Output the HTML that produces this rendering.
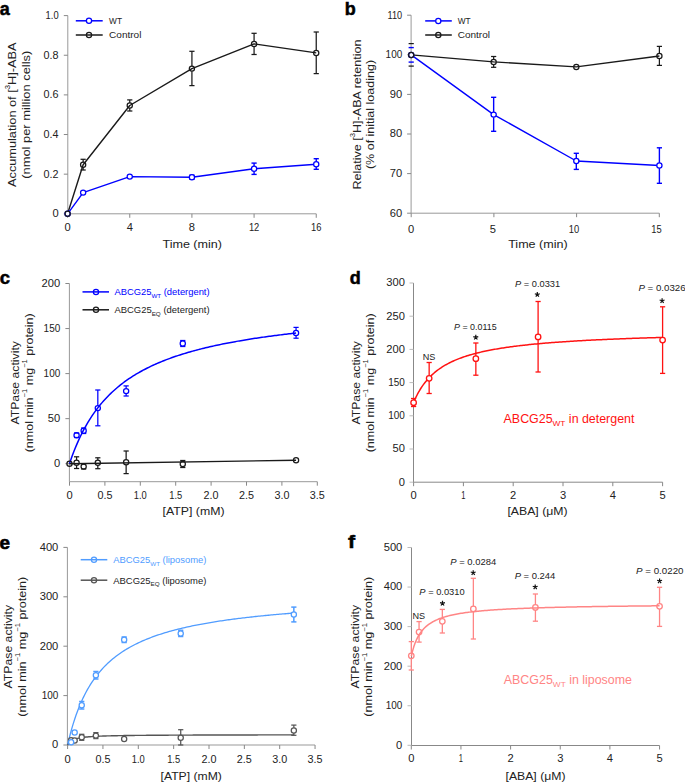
<!DOCTYPE html>
<html><head><meta charset="utf-8"><style>
html,body{margin:0;padding:0;background:#fff;width:685px;height:783px;overflow:hidden}
svg{display:block}
text{font-family:"Liberation Sans",sans-serif}
</style></head><body>
<svg width="685" height="783" viewBox="0 0 685 783">
<rect width="685" height="783" fill="#fff"/>
<g font-family="Liberation Sans, sans-serif">
<text x="-0.3" y="14.6" font-size="18" fill="#000" stroke="#000" stroke-width="0.5" textLength="10" lengthAdjust="spacingAndGlyphs" font-weight="bold" >a</text>
<text x="344.8" y="14.6" font-size="18" fill="#000" stroke="#000" stroke-width="0.5" textLength="11" lengthAdjust="spacingAndGlyphs" font-weight="bold" >b</text>
<text x="-0.2" y="283.6" font-size="18" fill="#000" stroke="#000" stroke-width="0.5" textLength="10.3" lengthAdjust="spacingAndGlyphs" font-weight="bold" >c</text>
<text x="349.8" y="283.6" font-size="18" fill="#000" stroke="#000" stroke-width="0.5" textLength="11" lengthAdjust="spacingAndGlyphs" font-weight="bold" >d</text>
<text x="-0.5" y="549" font-size="18" fill="#000" stroke="#000" stroke-width="0.6" textLength="10.5" lengthAdjust="spacingAndGlyphs" font-weight="bold" >e</text>
<text x="348.1" y="547.8" font-size="18" fill="#000" stroke="#000" stroke-width="0.5" textLength="7.1" lengthAdjust="spacingAndGlyphs" font-weight="bold" >f</text>
<line x1="67.8" y1="15.6" x2="67.8" y2="213.8" stroke="#999" stroke-width="1" />
<line x1="63.8" y1="213.8" x2="67.8" y2="213.8" stroke="#888" stroke-width="1" />
<text x="58.6" y="217.2" font-size="10" fill="#222" text-anchor="end" textLength="6.2" lengthAdjust="spacingAndGlyphs" >0</text>
<line x1="63.8" y1="174.16" x2="67.8" y2="174.16" stroke="#888" stroke-width="1" />
<text x="58.6" y="177.56" font-size="10" fill="#222" text-anchor="end" textLength="15" lengthAdjust="spacingAndGlyphs" >0.2</text>
<line x1="63.8" y1="134.52" x2="67.8" y2="134.52" stroke="#888" stroke-width="1" />
<text x="58.6" y="137.92" font-size="10" fill="#222" text-anchor="end" textLength="15" lengthAdjust="spacingAndGlyphs" >0.4</text>
<line x1="63.8" y1="94.88" x2="67.8" y2="94.88" stroke="#888" stroke-width="1" />
<text x="58.6" y="98.28" font-size="10" fill="#222" text-anchor="end" textLength="15" lengthAdjust="spacingAndGlyphs" >0.6</text>
<line x1="63.8" y1="55.24" x2="67.8" y2="55.24" stroke="#888" stroke-width="1" />
<text x="58.6" y="58.64" font-size="10" fill="#222" text-anchor="end" textLength="15" lengthAdjust="spacingAndGlyphs" >0.8</text>
<line x1="63.8" y1="15.6" x2="67.8" y2="15.6" stroke="#888" stroke-width="1" />
<text x="58.6" y="19" font-size="10" fill="#222" text-anchor="end" textLength="13" lengthAdjust="spacingAndGlyphs" >1.0</text>
<line x1="67.8" y1="213.8" x2="316.24" y2="213.8" stroke="#999" stroke-width="1" />
<line x1="67.6" y1="213.8" x2="67.6" y2="217.8" stroke="#888" stroke-width="1" />
<text x="67.6" y="230.5" font-size="10" fill="#222" text-anchor="middle" textLength="6.2" lengthAdjust="spacingAndGlyphs" >0</text>
<line x1="129.76" y1="213.8" x2="129.76" y2="217.8" stroke="#888" stroke-width="1" />
<text x="129.76" y="230.5" font-size="10" fill="#222" text-anchor="middle" textLength="6.2" lengthAdjust="spacingAndGlyphs" >4</text>
<line x1="191.92" y1="213.8" x2="191.92" y2="217.8" stroke="#888" stroke-width="1" />
<text x="191.92" y="230.5" font-size="10" fill="#222" text-anchor="middle" textLength="6.2" lengthAdjust="spacingAndGlyphs" >8</text>
<line x1="254.08" y1="213.8" x2="254.08" y2="217.8" stroke="#888" stroke-width="1" />
<text x="254.08" y="230.5" font-size="10" fill="#222" text-anchor="middle" textLength="10.4" lengthAdjust="spacingAndGlyphs" >12</text>
<line x1="316.24" y1="213.8" x2="316.24" y2="217.8" stroke="#888" stroke-width="1" />
<text x="316.24" y="230.5" font-size="10" fill="#222" text-anchor="middle" textLength="10.4" lengthAdjust="spacingAndGlyphs" >16</text>
<text x="192.2" y="248.4" font-size="11.5" fill="#222" text-anchor="middle" textLength="59.5" lengthAdjust="spacingAndGlyphs" >Time (min)</text>
<text x="15.9" y="114.75" font-size="11.8" fill="#222" text-anchor="middle" transform="rotate(-90 15.9 114.75)" textLength="144.4" lengthAdjust="spacingAndGlyphs">Accumulation of [<tspan font-size="7.2" dy="-5.4">3</tspan><tspan dy="5.4">H]-ABA</tspan></text>
<text x="29.8" y="114.75" font-size="11.8" fill="#222" text-anchor="middle" transform="rotate(-90 29.8 114.75)" textLength="128.1" lengthAdjust="spacingAndGlyphs">(nmol per million cells)</text>
<line x1="75.8" y1="20.8" x2="102.7" y2="20.8" stroke="#0000ff" stroke-width="1.5" />
<circle cx="89" cy="20.8" r="2.6" fill="#fff" stroke="#0000ff" stroke-width="1.25"/>
<text x="109.1" y="24" font-size="9.0" fill="#222" textLength="12.9" lengthAdjust="spacingAndGlyphs" >WT</text>
<line x1="75.8" y1="35" x2="102.7" y2="35" stroke="#1a1a1a" stroke-width="1.5" />
<circle cx="89" cy="35" r="2.6" fill="none" stroke="#1a1a1a" stroke-width="1.25"/>
<text x="109.1" y="38.2" font-size="9.0" fill="#222" textLength="32.3" lengthAdjust="spacingAndGlyphs" >Control</text>
<polyline points="67.6,213.8 83.14,164.7 129.76,105.5 191.92,68.6 254.08,43.9 316.24,52.9" fill="none" stroke="#1a1a1a" stroke-width="1.4" stroke-linejoin="round"/>
<polyline points="67.6,213.8 83.14,192.6 129.76,176.6 191.92,177.2 254.08,168.8 316.24,164.2" fill="none" stroke="#0000ff" stroke-width="1.4" stroke-linejoin="round"/>
<line x1="83.14" y1="159.3" x2="83.14" y2="162.1" stroke="#1a1a1a" stroke-width="1.25" />
<line x1="83.14" y1="167.3" x2="83.14" y2="170" stroke="#1a1a1a" stroke-width="1.25" />
<line x1="80.54" y1="159.3" x2="85.74" y2="159.3" stroke="#1a1a1a" stroke-width="1.25" />
<line x1="80.54" y1="170" x2="85.74" y2="170" stroke="#1a1a1a" stroke-width="1.25" />
<line x1="129.76" y1="99.9" x2="129.76" y2="102.9" stroke="#1a1a1a" stroke-width="1.25" />
<line x1="129.76" y1="108.1" x2="129.76" y2="111" stroke="#1a1a1a" stroke-width="1.25" />
<line x1="127.16" y1="99.9" x2="132.36" y2="99.9" stroke="#1a1a1a" stroke-width="1.25" />
<line x1="127.16" y1="111" x2="132.36" y2="111" stroke="#1a1a1a" stroke-width="1.25" />
<line x1="191.92" y1="51.3" x2="191.92" y2="66" stroke="#1a1a1a" stroke-width="1.25" />
<line x1="191.92" y1="71.2" x2="191.92" y2="85.6" stroke="#1a1a1a" stroke-width="1.25" />
<line x1="189.32" y1="51.3" x2="194.52" y2="51.3" stroke="#1a1a1a" stroke-width="1.25" />
<line x1="189.32" y1="85.6" x2="194.52" y2="85.6" stroke="#1a1a1a" stroke-width="1.25" />
<line x1="254.08" y1="33.3" x2="254.08" y2="41.3" stroke="#1a1a1a" stroke-width="1.25" />
<line x1="254.08" y1="46.5" x2="254.08" y2="54.5" stroke="#1a1a1a" stroke-width="1.25" />
<line x1="251.48" y1="33.3" x2="256.68" y2="33.3" stroke="#1a1a1a" stroke-width="1.25" />
<line x1="251.48" y1="54.5" x2="256.68" y2="54.5" stroke="#1a1a1a" stroke-width="1.25" />
<line x1="316.24" y1="32" x2="316.24" y2="50.3" stroke="#1a1a1a" stroke-width="1.25" />
<line x1="316.24" y1="55.5" x2="316.24" y2="73.6" stroke="#1a1a1a" stroke-width="1.25" />
<line x1="313.64" y1="32" x2="318.84" y2="32" stroke="#1a1a1a" stroke-width="1.25" />
<line x1="313.64" y1="73.6" x2="318.84" y2="73.6" stroke="#1a1a1a" stroke-width="1.25" />
<line x1="189.32" y1="175.2" x2="194.52" y2="175.2" stroke="#0000ff" stroke-width="1.4" />
<line x1="189.32" y1="179.2" x2="194.52" y2="179.2" stroke="#0000ff" stroke-width="1.4" />
<line x1="254.08" y1="163.1" x2="254.08" y2="166.2" stroke="#0000ff" stroke-width="1.4" />
<line x1="254.08" y1="171.4" x2="254.08" y2="174.4" stroke="#0000ff" stroke-width="1.4" />
<line x1="251.48" y1="163.1" x2="256.68" y2="163.1" stroke="#0000ff" stroke-width="1.4" />
<line x1="251.48" y1="174.4" x2="256.68" y2="174.4" stroke="#0000ff" stroke-width="1.4" />
<line x1="316.24" y1="158.7" x2="316.24" y2="161.6" stroke="#0000ff" stroke-width="1.4" />
<line x1="316.24" y1="166.8" x2="316.24" y2="169.3" stroke="#0000ff" stroke-width="1.4" />
<line x1="313.64" y1="158.7" x2="318.84" y2="158.7" stroke="#0000ff" stroke-width="1.4" />
<line x1="313.64" y1="169.3" x2="318.84" y2="169.3" stroke="#0000ff" stroke-width="1.4" />
<circle cx="67.6" cy="213.8" r="2.6" fill="#fff" stroke="#0000ff" stroke-width="1.25"/>
<circle cx="83.14" cy="192.6" r="2.6" fill="#fff" stroke="#0000ff" stroke-width="1.25"/>
<circle cx="129.76" cy="176.6" r="2.6" fill="#fff" stroke="#0000ff" stroke-width="1.25"/>
<circle cx="191.92" cy="177.2" r="2.6" fill="#fff" stroke="#0000ff" stroke-width="1.25"/>
<circle cx="254.08" cy="168.8" r="2.6" fill="#fff" stroke="#0000ff" stroke-width="1.25"/>
<circle cx="316.24" cy="164.2" r="2.6" fill="#fff" stroke="#0000ff" stroke-width="1.25"/>
<circle cx="67.6" cy="213.8" r="2.6" fill="none" stroke="#1a1a1a" stroke-width="1.25"/>
<circle cx="83.14" cy="164.7" r="2.6" fill="none" stroke="#1a1a1a" stroke-width="1.25"/>
<circle cx="129.76" cy="105.5" r="2.6" fill="none" stroke="#1a1a1a" stroke-width="1.25"/>
<circle cx="191.92" cy="68.6" r="2.6" fill="none" stroke="#1a1a1a" stroke-width="1.25"/>
<circle cx="254.08" cy="43.9" r="2.6" fill="none" stroke="#1a1a1a" stroke-width="1.25"/>
<circle cx="316.24" cy="52.9" r="2.6" fill="none" stroke="#1a1a1a" stroke-width="1.25"/>
<line x1="411.1" y1="15.2" x2="411.1" y2="213.2" stroke="#999" stroke-width="1" />
<line x1="407.1" y1="213.2" x2="411.1" y2="213.2" stroke="#888" stroke-width="1" />
<text x="402.2" y="216.6" font-size="10" fill="#222" text-anchor="end" textLength="12.4" lengthAdjust="spacingAndGlyphs" >60</text>
<line x1="407.1" y1="173.6" x2="411.1" y2="173.6" stroke="#888" stroke-width="1" />
<text x="402.2" y="177" font-size="10" fill="#222" text-anchor="end" textLength="12.4" lengthAdjust="spacingAndGlyphs" >70</text>
<line x1="407.1" y1="134" x2="411.1" y2="134" stroke="#888" stroke-width="1" />
<text x="402.2" y="137.4" font-size="10" fill="#222" text-anchor="end" textLength="12.4" lengthAdjust="spacingAndGlyphs" >80</text>
<line x1="407.1" y1="94.4" x2="411.1" y2="94.4" stroke="#888" stroke-width="1" />
<text x="402.2" y="97.8" font-size="10" fill="#222" text-anchor="end" textLength="12.4" lengthAdjust="spacingAndGlyphs" >90</text>
<line x1="407.1" y1="54.8" x2="411.1" y2="54.8" stroke="#888" stroke-width="1" />
<text x="402.2" y="58.2" font-size="10" fill="#222" text-anchor="end" textLength="16.6" lengthAdjust="spacingAndGlyphs" >100</text>
<line x1="407.1" y1="15.2" x2="411.1" y2="15.2" stroke="#888" stroke-width="1" />
<text x="402.2" y="18.6" font-size="10" fill="#222" text-anchor="end" textLength="14.6" lengthAdjust="spacingAndGlyphs" >110</text>
<line x1="411.1" y1="213.2" x2="659.3" y2="213.2" stroke="#999" stroke-width="1" />
<line x1="411.2" y1="213.2" x2="411.2" y2="217.2" stroke="#888" stroke-width="1" />
<text x="411" y="233.4" font-size="10" fill="#222" text-anchor="middle" textLength="6.2" lengthAdjust="spacingAndGlyphs" >0</text>
<line x1="493.9" y1="213.2" x2="493.9" y2="217.2" stroke="#888" stroke-width="1" />
<text x="492.9" y="233.4" font-size="10" fill="#222" text-anchor="middle" textLength="6.2" lengthAdjust="spacingAndGlyphs" >5</text>
<line x1="576.6" y1="213.2" x2="576.6" y2="217.2" stroke="#888" stroke-width="1" />
<text x="573.9" y="233.4" font-size="10" fill="#222" text-anchor="middle" textLength="10.4" lengthAdjust="spacingAndGlyphs" >10</text>
<line x1="659.3" y1="213.2" x2="659.3" y2="217.2" stroke="#888" stroke-width="1" />
<text x="656.5" y="233.4" font-size="10" fill="#222" text-anchor="middle" textLength="10.4" lengthAdjust="spacingAndGlyphs" >15</text>
<text x="537.9" y="248.4" font-size="11.5" fill="#222" text-anchor="middle" textLength="59.5" lengthAdjust="spacingAndGlyphs" >Time (min)</text>
<text x="360.7" y="114.5" font-size="11.8" fill="#222" text-anchor="middle" transform="rotate(-90 360.7 114.5)" textLength="149.9" lengthAdjust="spacingAndGlyphs">Relative [<tspan font-size="7.2" dy="-5.4">3</tspan><tspan dy="5.4">H]-ABA retention</tspan></text>
<text x="374.1" y="114.5" font-size="11.8" fill="#222" text-anchor="middle" transform="rotate(-90 374.1 114.5)" textLength="109.1" lengthAdjust="spacingAndGlyphs">(% of initial loading)</text>
<line x1="425.2" y1="20.9" x2="451.8" y2="20.9" stroke="#0000ff" stroke-width="1.5" />
<circle cx="438.3" cy="20.9" r="2.6" fill="#fff" stroke="#0000ff" stroke-width="1.25"/>
<text x="457.7" y="24.1" font-size="9.0" fill="#222" textLength="12.9" lengthAdjust="spacingAndGlyphs" >WT</text>
<line x1="425.2" y1="35" x2="451.8" y2="35" stroke="#1a1a1a" stroke-width="1.5" />
<circle cx="438.3" cy="35" r="2.6" fill="none" stroke="#1a1a1a" stroke-width="1.25"/>
<text x="457.7" y="38.2" font-size="9.0" fill="#222" textLength="32.3" lengthAdjust="spacingAndGlyphs" >Control</text>
<polyline points="411.2,54.9 493.65,61.9 576.3,66.9 659.4,56" fill="none" stroke="#1a1a1a" stroke-width="1.4" stroke-linejoin="round"/>
<polyline points="411.2,54.9 493.65,114.6 576.3,161 659.4,165.5" fill="none" stroke="#0000ff" stroke-width="1.4" stroke-linejoin="round"/>
<line x1="408.6" y1="43.6" x2="413.8" y2="43.6" stroke="#1a1a1a" stroke-width="1.25" />
<line x1="408.6" y1="66.1" x2="413.8" y2="66.1" stroke="#1a1a1a" stroke-width="1.25" />
<line x1="493.65" y1="56.5" x2="493.65" y2="59.3" stroke="#1a1a1a" stroke-width="1.25" />
<line x1="493.65" y1="64.5" x2="493.65" y2="67.3" stroke="#1a1a1a" stroke-width="1.25" />
<line x1="491.05" y1="56.5" x2="496.25" y2="56.5" stroke="#1a1a1a" stroke-width="1.25" />
<line x1="491.05" y1="67.3" x2="496.25" y2="67.3" stroke="#1a1a1a" stroke-width="1.25" />
<line x1="659.4" y1="46.4" x2="659.4" y2="53.4" stroke="#1a1a1a" stroke-width="1.25" />
<line x1="659.4" y1="58.6" x2="659.4" y2="65.4" stroke="#1a1a1a" stroke-width="1.25" />
<line x1="656.8" y1="46.4" x2="662" y2="46.4" stroke="#1a1a1a" stroke-width="1.25" />
<line x1="656.8" y1="65.4" x2="662" y2="65.4" stroke="#1a1a1a" stroke-width="1.25" />
<line x1="408.6" y1="47.6" x2="413.8" y2="47.6" stroke="#0000ff" stroke-width="1.4" />
<line x1="408.6" y1="62.1" x2="413.8" y2="62.1" stroke="#0000ff" stroke-width="1.4" />
<line x1="493.65" y1="97.3" x2="493.65" y2="112" stroke="#0000ff" stroke-width="1.4" />
<line x1="493.65" y1="117.2" x2="493.65" y2="131.3" stroke="#0000ff" stroke-width="1.4" />
<line x1="491.05" y1="97.3" x2="496.25" y2="97.3" stroke="#0000ff" stroke-width="1.4" />
<line x1="491.05" y1="131.3" x2="496.25" y2="131.3" stroke="#0000ff" stroke-width="1.4" />
<line x1="576.3" y1="153.3" x2="576.3" y2="158.4" stroke="#0000ff" stroke-width="1.4" />
<line x1="576.3" y1="163.6" x2="576.3" y2="169.4" stroke="#0000ff" stroke-width="1.4" />
<line x1="573.7" y1="153.3" x2="578.9" y2="153.3" stroke="#0000ff" stroke-width="1.4" />
<line x1="573.7" y1="169.4" x2="578.9" y2="169.4" stroke="#0000ff" stroke-width="1.4" />
<line x1="659.4" y1="147.8" x2="659.4" y2="162.9" stroke="#0000ff" stroke-width="1.4" />
<line x1="659.4" y1="168.1" x2="659.4" y2="183.3" stroke="#0000ff" stroke-width="1.4" />
<line x1="656.8" y1="147.8" x2="662" y2="147.8" stroke="#0000ff" stroke-width="1.4" />
<line x1="656.8" y1="183.3" x2="662" y2="183.3" stroke="#0000ff" stroke-width="1.4" />
<circle cx="411.2" cy="54.9" r="2.6" fill="#fff" stroke="#0000ff" stroke-width="1.25"/>
<circle cx="493.65" cy="114.6" r="2.6" fill="#fff" stroke="#0000ff" stroke-width="1.25"/>
<circle cx="576.3" cy="161" r="2.6" fill="#fff" stroke="#0000ff" stroke-width="1.25"/>
<circle cx="659.4" cy="165.5" r="2.6" fill="#fff" stroke="#0000ff" stroke-width="1.25"/>
<circle cx="411.2" cy="54.9" r="2.6" fill="none" stroke="#1a1a1a" stroke-width="1.25"/>
<circle cx="493.65" cy="61.9" r="2.6" fill="none" stroke="#1a1a1a" stroke-width="1.25"/>
<circle cx="576.3" cy="66.9" r="2.6" fill="none" stroke="#1a1a1a" stroke-width="1.25"/>
<circle cx="659.4" cy="56" r="2.6" fill="none" stroke="#1a1a1a" stroke-width="1.25"/>
<line x1="69.4" y1="283.5" x2="69.4" y2="481.7" stroke="#999" stroke-width="1" />
<line x1="65.4" y1="463.7" x2="69.4" y2="463.7" stroke="#888" stroke-width="1" />
<text x="60.2" y="467.1" font-size="10" fill="#222" text-anchor="end" textLength="6.2" lengthAdjust="spacingAndGlyphs" >0</text>
<line x1="65.4" y1="418.65" x2="69.4" y2="418.65" stroke="#888" stroke-width="1" />
<text x="60.2" y="422.05" font-size="10" fill="#222" text-anchor="end" textLength="12.4" lengthAdjust="spacingAndGlyphs" >50</text>
<line x1="65.4" y1="373.6" x2="69.4" y2="373.6" stroke="#888" stroke-width="1" />
<text x="60.2" y="377" font-size="10" fill="#222" text-anchor="end" textLength="16.6" lengthAdjust="spacingAndGlyphs" >100</text>
<line x1="65.4" y1="328.55" x2="69.4" y2="328.55" stroke="#888" stroke-width="1" />
<text x="60.2" y="331.95" font-size="10" fill="#222" text-anchor="end" textLength="16.6" lengthAdjust="spacingAndGlyphs" >150</text>
<line x1="65.4" y1="283.5" x2="69.4" y2="283.5" stroke="#888" stroke-width="1" />
<text x="60.2" y="286.9" font-size="10" fill="#222" text-anchor="end" textLength="18.6" lengthAdjust="spacingAndGlyphs" >200</text>
<line x1="69.4" y1="481.7" x2="317.3" y2="481.7" stroke="#999" stroke-width="1" />
<line x1="69.5" y1="481.7" x2="69.5" y2="485.7" stroke="#888" stroke-width="1" />
<text x="69.5" y="498.6" font-size="10" fill="#222" text-anchor="middle" textLength="6.2" lengthAdjust="spacingAndGlyphs" >0</text>
<line x1="104.9" y1="481.7" x2="104.9" y2="485.7" stroke="#888" stroke-width="1" />
<text x="104.9" y="498.6" font-size="10" fill="#222" text-anchor="middle" textLength="15" lengthAdjust="spacingAndGlyphs" >0.5</text>
<line x1="140.3" y1="481.7" x2="140.3" y2="485.7" stroke="#888" stroke-width="1" />
<text x="140.3" y="498.6" font-size="10" fill="#222" text-anchor="middle" textLength="13" lengthAdjust="spacingAndGlyphs" >1.0</text>
<line x1="175.7" y1="481.7" x2="175.7" y2="485.7" stroke="#888" stroke-width="1" />
<text x="175.7" y="498.6" font-size="10" fill="#222" text-anchor="middle" textLength="13" lengthAdjust="spacingAndGlyphs" >1.5</text>
<line x1="211.1" y1="481.7" x2="211.1" y2="485.7" stroke="#888" stroke-width="1" />
<text x="211.1" y="498.6" font-size="10" fill="#222" text-anchor="middle" textLength="15" lengthAdjust="spacingAndGlyphs" >2.0</text>
<line x1="246.5" y1="481.7" x2="246.5" y2="485.7" stroke="#888" stroke-width="1" />
<text x="246.5" y="498.6" font-size="10" fill="#222" text-anchor="middle" textLength="15" lengthAdjust="spacingAndGlyphs" >2.5</text>
<line x1="281.9" y1="481.7" x2="281.9" y2="485.7" stroke="#888" stroke-width="1" />
<text x="281.9" y="498.6" font-size="10" fill="#222" text-anchor="middle" textLength="15" lengthAdjust="spacingAndGlyphs" >3.0</text>
<line x1="317.3" y1="481.7" x2="317.3" y2="485.7" stroke="#888" stroke-width="1" />
<text x="317.3" y="498.6" font-size="10" fill="#222" text-anchor="middle" textLength="15" lengthAdjust="spacingAndGlyphs" >3.5</text>
<text x="193.5" y="515.2" font-size="11.5" fill="#222" text-anchor="middle" textLength="62" lengthAdjust="spacingAndGlyphs" >[ATP] (mM)</text>
<text x="18.7" y="382.8" font-size="11.8" fill="#222" text-anchor="middle" transform="rotate(-90 18.7 382.8)" textLength="83.5" lengthAdjust="spacingAndGlyphs">ATPase activity</text>
<text x="32.8" y="382.8" font-size="11.8" fill="#222" text-anchor="middle" transform="rotate(-90 32.8 382.8)" textLength="139.1" lengthAdjust="spacingAndGlyphs">(nmol min<tspan font-size="7.2" dy="-5.4">−1</tspan><tspan dy="5.4"> mg</tspan><tspan font-size="7.2" dy="-5.4">−1</tspan><tspan dy="5.4"> protein)</tspan></text>
<line x1="82.5" y1="291.9" x2="109" y2="291.9" stroke="#0000ff" stroke-width="1.5" />
<circle cx="96" cy="291.9" r="2.6" fill="none" stroke="#0000ff" stroke-width="1.25"/>
<text x="114.4" y="295.3" font-size="9.0" fill="#0000ff" textLength="95.2" lengthAdjust="spacingAndGlyphs" >ABCG25<tspan font-size="6" dy="2.5">WT</tspan><tspan dy="-2.5"> (detergent)</tspan></text>
<line x1="82.5" y1="309.8" x2="109" y2="309.8" stroke="#1a1a1a" stroke-width="1.5" />
<circle cx="96" cy="309.8" r="2.6" fill="none" stroke="#1a1a1a" stroke-width="1.25"/>
<text x="114.4" y="313.2" font-size="9.0" fill="#222" textLength="95.2" lengthAdjust="spacingAndGlyphs" >ABCG25<tspan font-size="6" dy="2.5">EQ</tspan><tspan dy="-2.5"> (detergent)</tspan></text>
<polyline points="69.5,463.7 70.92,459.54 72.33,455.59 73.75,451.84 75.16,448.26 76.58,444.85 78,441.6 79.41,438.49 80.83,435.51 82.24,432.67 83.66,429.94 85.08,427.32 86.49,424.81 87.91,422.4 89.32,420.08 90.74,417.85 92.16,415.7 93.57,413.63 94.99,411.63 96.4,409.71 97.82,407.85 99.24,406.05 100.65,404.32 102.07,402.64 103.48,401.01 104.9,399.44 106.32,397.92 107.73,396.44 109.15,395.01 110.56,393.62 111.98,392.27 113.4,390.96 114.81,389.69 116.23,388.45 117.64,387.25 119.06,386.09 120.48,384.95 121.89,383.84 123.31,382.77 124.72,381.72 126.14,380.69 127.56,379.7 128.97,378.73 130.39,377.78 131.8,376.86 133.22,375.95 134.64,375.07 136.05,374.21 137.47,373.38 138.88,372.56 140.3,371.75 141.72,370.97 143.13,370.2 144.55,369.46 145.96,368.72 147.38,368.01 148.8,367.3 150.21,366.62 151.63,365.94 153.04,365.29 154.46,364.64 155.88,364.01 157.29,363.39 158.71,362.78 160.12,362.19 161.54,361.6 162.96,361.03 164.37,360.47 165.79,359.92 167.2,359.38 168.62,358.85 170.04,358.33 171.45,357.81 172.87,357.31 174.28,356.82 175.7,356.33 177.12,355.86 178.53,355.39 179.95,354.93 181.36,354.48 182.78,354.04 184.2,353.6 185.61,353.17 187.03,352.75 188.44,352.33 189.86,351.92 191.28,351.52 192.69,351.13 194.11,350.74 195.52,350.35 196.94,349.98 198.36,349.61 199.77,349.24 201.19,348.88 202.6,348.53 204.02,348.18 205.44,347.83 206.85,347.49 208.27,347.16 209.68,346.83 211.1,346.51 212.52,346.19 213.93,345.87 215.35,345.56 216.76,345.26 218.18,344.96 219.6,344.66 221.01,344.36 222.43,344.07 223.84,343.79 225.26,343.51 226.68,343.23 228.09,342.96 229.51,342.69 230.92,342.42 232.34,342.15 233.76,341.89 235.17,341.64 236.59,341.38 238,341.13 239.42,340.89 240.84,340.64 242.25,340.4 243.67,340.17 245.08,339.93 246.5,339.7 247.92,339.47 249.33,339.24 250.75,339.02 252.16,338.8 253.58,338.58 255,338.36 256.41,338.15 257.83,337.94 259.24,337.73 260.66,337.53 262.08,337.32 263.49,337.12 264.91,336.92 266.32,336.73 267.74,336.53 269.16,336.34 270.57,336.15 271.99,335.96 273.4,335.78 274.82,335.59 276.24,335.41 277.65,335.23 279.07,335.05 280.48,334.88 281.9,334.7 283.32,334.53 284.73,334.36 286.15,334.19 287.56,334.02 288.98,333.86 290.4,333.69 291.81,333.53 293.23,333.37 294.64,333.21 296.06,333.06" fill="none" stroke="#0000ff" stroke-width="1.5" stroke-linejoin="round"/>
<polyline points="69.5,463.8 296.06,460.2" fill="none" stroke="#1a1a1a" stroke-width="1.4" stroke-linejoin="round"/>
<line x1="76.58" y1="456.8" x2="76.58" y2="460.1" stroke="#1a1a1a" stroke-width="1.25" />
<line x1="76.58" y1="465.3" x2="76.58" y2="468.5" stroke="#1a1a1a" stroke-width="1.25" />
<line x1="73.98" y1="456.8" x2="79.18" y2="456.8" stroke="#1a1a1a" stroke-width="1.25" />
<line x1="73.98" y1="468.5" x2="79.18" y2="468.5" stroke="#1a1a1a" stroke-width="1.25" />
<line x1="81.06" y1="464" x2="86.26" y2="464" stroke="#1a1a1a" stroke-width="1.25" />
<line x1="81.06" y1="469" x2="86.26" y2="469" stroke="#1a1a1a" stroke-width="1.25" />
<line x1="97.82" y1="457.8" x2="97.82" y2="460.1" stroke="#1a1a1a" stroke-width="1.25" />
<line x1="97.82" y1="465.3" x2="97.82" y2="468.7" stroke="#1a1a1a" stroke-width="1.25" />
<line x1="95.22" y1="457.8" x2="100.42" y2="457.8" stroke="#1a1a1a" stroke-width="1.25" />
<line x1="95.22" y1="468.7" x2="100.42" y2="468.7" stroke="#1a1a1a" stroke-width="1.25" />
<line x1="126.14" y1="451" x2="126.14" y2="459.7" stroke="#1a1a1a" stroke-width="1.25" />
<line x1="126.14" y1="464.9" x2="126.14" y2="473.6" stroke="#1a1a1a" stroke-width="1.25" />
<line x1="123.54" y1="451" x2="128.74" y2="451" stroke="#1a1a1a" stroke-width="1.25" />
<line x1="123.54" y1="473.6" x2="128.74" y2="473.6" stroke="#1a1a1a" stroke-width="1.25" />
<line x1="182.78" y1="460.5" x2="182.78" y2="461.4" stroke="#1a1a1a" stroke-width="1.25" />
<line x1="182.78" y1="466.6" x2="182.78" y2="467.5" stroke="#1a1a1a" stroke-width="1.25" />
<line x1="180.18" y1="460.5" x2="185.38" y2="460.5" stroke="#1a1a1a" stroke-width="1.25" />
<line x1="180.18" y1="467.5" x2="185.38" y2="467.5" stroke="#1a1a1a" stroke-width="1.25" />
<line x1="73.98" y1="433" x2="79.18" y2="433" stroke="#0000ff" stroke-width="1.25" />
<line x1="73.98" y1="437.5" x2="79.18" y2="437.5" stroke="#0000ff" stroke-width="1.25" />
<line x1="83.66" y1="428" x2="83.66" y2="428.1" stroke="#0000ff" stroke-width="1.25" />
<line x1="83.66" y1="433.3" x2="83.66" y2="433.5" stroke="#0000ff" stroke-width="1.25" />
<line x1="81.06" y1="428" x2="86.26" y2="428" stroke="#0000ff" stroke-width="1.25" />
<line x1="81.06" y1="433.5" x2="86.26" y2="433.5" stroke="#0000ff" stroke-width="1.25" />
<line x1="97.82" y1="390" x2="97.82" y2="405.5" stroke="#0000ff" stroke-width="1.25" />
<line x1="97.82" y1="410.7" x2="97.82" y2="425.8" stroke="#0000ff" stroke-width="1.25" />
<line x1="95.22" y1="390" x2="100.42" y2="390" stroke="#0000ff" stroke-width="1.25" />
<line x1="95.22" y1="425.8" x2="100.42" y2="425.8" stroke="#0000ff" stroke-width="1.25" />
<line x1="126.14" y1="385.9" x2="126.14" y2="388.5" stroke="#0000ff" stroke-width="1.25" />
<line x1="126.14" y1="393.7" x2="126.14" y2="396" stroke="#0000ff" stroke-width="1.25" />
<line x1="123.54" y1="385.9" x2="128.74" y2="385.9" stroke="#0000ff" stroke-width="1.25" />
<line x1="123.54" y1="396" x2="128.74" y2="396" stroke="#0000ff" stroke-width="1.25" />
<line x1="182.78" y1="340.5" x2="182.78" y2="340.9" stroke="#0000ff" stroke-width="1.25" />
<line x1="182.78" y1="346.1" x2="182.78" y2="346.5" stroke="#0000ff" stroke-width="1.25" />
<line x1="180.18" y1="340.5" x2="185.38" y2="340.5" stroke="#0000ff" stroke-width="1.25" />
<line x1="180.18" y1="346.5" x2="185.38" y2="346.5" stroke="#0000ff" stroke-width="1.25" />
<line x1="296.06" y1="327.4" x2="296.06" y2="330.4" stroke="#0000ff" stroke-width="1.25" />
<line x1="296.06" y1="335.6" x2="296.06" y2="338.2" stroke="#0000ff" stroke-width="1.25" />
<line x1="293.46" y1="327.4" x2="298.66" y2="327.4" stroke="#0000ff" stroke-width="1.25" />
<line x1="293.46" y1="338.2" x2="298.66" y2="338.2" stroke="#0000ff" stroke-width="1.25" />
<circle cx="69.5" cy="463.8" r="2.6" fill="none" stroke="#1a1a1a" stroke-width="1.25"/>
<circle cx="76.58" cy="462.7" r="2.6" fill="none" stroke="#1a1a1a" stroke-width="1.25"/>
<circle cx="83.66" cy="466.6" r="2.6" fill="none" stroke="#1a1a1a" stroke-width="1.25"/>
<circle cx="97.82" cy="462.7" r="2.6" fill="none" stroke="#1a1a1a" stroke-width="1.25"/>
<circle cx="126.14" cy="462.3" r="2.6" fill="none" stroke="#1a1a1a" stroke-width="1.25"/>
<circle cx="182.78" cy="464" r="2.6" fill="none" stroke="#1a1a1a" stroke-width="1.25"/>
<circle cx="296.06" cy="460.2" r="2.6" fill="none" stroke="#1a1a1a" stroke-width="1.25"/>
<circle cx="76.58" cy="435.2" r="2.6" fill="none" stroke="#0000ff" stroke-width="1.25"/>
<circle cx="83.66" cy="430.7" r="2.6" fill="none" stroke="#0000ff" stroke-width="1.25"/>
<circle cx="97.82" cy="408.1" r="2.6" fill="none" stroke="#0000ff" stroke-width="1.25"/>
<circle cx="126.14" cy="391.1" r="2.6" fill="none" stroke="#0000ff" stroke-width="1.25"/>
<circle cx="182.78" cy="343.5" r="2.6" fill="none" stroke="#0000ff" stroke-width="1.25"/>
<circle cx="296.06" cy="333" r="2.6" fill="none" stroke="#0000ff" stroke-width="1.25"/>
<line x1="413.5" y1="283" x2="413.5" y2="482.2" stroke="#888" stroke-width="1" />
<line x1="409.5" y1="482.2" x2="413.5" y2="482.2" stroke="#bbb" stroke-width="1" />
<text x="404.9" y="485.6" font-size="10" fill="#222" text-anchor="end" textLength="6.2" lengthAdjust="spacingAndGlyphs" >0</text>
<line x1="409.5" y1="449" x2="413.5" y2="449" stroke="#bbb" stroke-width="1" />
<text x="404.9" y="452.4" font-size="10" fill="#222" text-anchor="end" textLength="12.4" lengthAdjust="spacingAndGlyphs" >50</text>
<line x1="409.5" y1="415.8" x2="413.5" y2="415.8" stroke="#bbb" stroke-width="1" />
<text x="404.9" y="419.2" font-size="10" fill="#222" text-anchor="end" textLength="16.6" lengthAdjust="spacingAndGlyphs" >100</text>
<line x1="409.5" y1="382.6" x2="413.5" y2="382.6" stroke="#bbb" stroke-width="1" />
<text x="404.9" y="386" font-size="10" fill="#222" text-anchor="end" textLength="16.6" lengthAdjust="spacingAndGlyphs" >150</text>
<line x1="409.5" y1="349.4" x2="413.5" y2="349.4" stroke="#bbb" stroke-width="1" />
<text x="404.9" y="352.8" font-size="10" fill="#222" text-anchor="end" textLength="18.6" lengthAdjust="spacingAndGlyphs" >200</text>
<line x1="409.5" y1="316.2" x2="413.5" y2="316.2" stroke="#bbb" stroke-width="1" />
<text x="404.9" y="319.6" font-size="10" fill="#222" text-anchor="end" textLength="18.6" lengthAdjust="spacingAndGlyphs" >250</text>
<line x1="409.5" y1="283" x2="413.5" y2="283" stroke="#bbb" stroke-width="1" />
<text x="404.9" y="286.4" font-size="10" fill="#222" text-anchor="end" textLength="18.6" lengthAdjust="spacingAndGlyphs" >300</text>
<line x1="413.5" y1="482.2" x2="662.6" y2="482.2" stroke="#888" stroke-width="1" />
<line x1="413.6" y1="482.2" x2="413.6" y2="486.2" stroke="#888" stroke-width="1" />
<text x="413.6" y="498.8" font-size="10" fill="#222" text-anchor="middle" textLength="6.2" lengthAdjust="spacingAndGlyphs" >0</text>
<line x1="463.4" y1="482.2" x2="463.4" y2="486.2" stroke="#888" stroke-width="1" />
<text x="463.4" y="498.8" font-size="10" fill="#222" text-anchor="middle" textLength="4.2" lengthAdjust="spacingAndGlyphs" >1</text>
<line x1="513.2" y1="482.2" x2="513.2" y2="486.2" stroke="#888" stroke-width="1" />
<text x="513.2" y="498.8" font-size="10" fill="#222" text-anchor="middle" textLength="6.2" lengthAdjust="spacingAndGlyphs" >2</text>
<line x1="563" y1="482.2" x2="563" y2="486.2" stroke="#888" stroke-width="1" />
<text x="563" y="498.8" font-size="10" fill="#222" text-anchor="middle" textLength="6.2" lengthAdjust="spacingAndGlyphs" >3</text>
<line x1="612.8" y1="482.2" x2="612.8" y2="486.2" stroke="#888" stroke-width="1" />
<text x="612.8" y="498.8" font-size="10" fill="#222" text-anchor="middle" textLength="6.2" lengthAdjust="spacingAndGlyphs" >4</text>
<line x1="662.6" y1="482.2" x2="662.6" y2="486.2" stroke="#888" stroke-width="1" />
<text x="662.6" y="498.8" font-size="10" fill="#222" text-anchor="middle" textLength="6.2" lengthAdjust="spacingAndGlyphs" >5</text>
<text x="537.5" y="515.3" font-size="11.5" fill="#222" text-anchor="middle" textLength="60.2" lengthAdjust="spacingAndGlyphs" >[ABA] (μM)</text>
<text x="360" y="382.8" font-size="11.8" fill="#222" text-anchor="middle" transform="rotate(-90 360 382.8)" textLength="83.5" lengthAdjust="spacingAndGlyphs">ATPase activity</text>
<text x="373.8" y="382.8" font-size="11.8" fill="#222" text-anchor="middle" transform="rotate(-90 373.8 382.8)" textLength="139.1" lengthAdjust="spacingAndGlyphs">(nmol min<tspan font-size="7.2" dy="-5.4">−1</tspan><tspan dy="5.4"> mg</tspan><tspan font-size="7.2" dy="-5.4">−1</tspan><tspan dy="5.4"> protein)</tspan></text>
<polyline points="413.6,402.52 414.85,399.62 416.09,396.95 417.34,394.47 418.58,392.17 419.83,390.02 421.07,388.02 422.31,386.15 423.56,384.39 424.81,382.74 426.05,381.18 427.3,379.72 428.54,378.33 429.79,377.02 431.03,375.78 432.28,374.6 433.52,373.48 434.77,372.41 436.01,371.39 437.25,370.43 438.5,369.5 439.75,368.62 440.99,367.77 442.24,366.96 443.48,366.18 444.73,365.44 445.97,364.72 447.22,364.04 448.46,363.38 449.71,362.74 450.95,362.13 452.2,361.54 453.44,360.97 454.69,360.42 455.93,359.89 457.18,359.38 458.42,358.88 459.67,358.4 460.91,357.94 462.16,357.49 463.4,357.05 464.65,356.63 465.89,356.22 467.13,355.83 468.38,355.44 469.62,355.07 470.87,354.7 472.12,354.35 473.36,354.01 474.61,353.67 475.85,353.35 477.1,353.03 478.34,352.72 479.59,352.42 480.83,352.13 482.08,351.84 483.32,351.57 484.57,351.29 485.81,351.03 487.06,350.77 488.3,350.52 489.55,350.27 490.79,350.03 492.04,349.8 493.28,349.57 494.53,349.34 495.77,349.12 497.01,348.91 498.26,348.7 499.5,348.49 500.75,348.29 502,348.1 503.24,347.9 504.49,347.71 505.73,347.53 506.98,347.35 508.22,347.17 509.47,347 510.71,346.83 511.96,346.66 513.2,346.49 514.45,346.33 515.69,346.18 516.94,346.02 518.18,345.87 519.42,345.72 520.67,345.57 521.91,345.43 523.16,345.29 524.4,345.15 525.65,345.01 526.89,344.88 528.14,344.74 529.38,344.61 530.63,344.49 531.88,344.36 533.12,344.24 534.37,344.12 535.61,344 536.86,343.88 538.1,343.77 539.35,343.65 540.59,343.54 541.84,343.43 543.08,343.32 544.33,343.21 545.57,343.11 546.82,343.01 548.06,342.9 549.31,342.8 550.55,342.71 551.8,342.61 553.04,342.51 554.29,342.42 555.53,342.32 556.77,342.23 558.02,342.14 559.26,342.05 560.51,341.97 561.75,341.88 563,341.79 564.25,341.71 565.49,341.63 566.74,341.54 567.98,341.46 569.23,341.38 570.47,341.3 571.72,341.23 572.96,341.15 574.21,341.07 575.45,341 576.7,340.93 577.94,340.85 579.19,340.78 580.43,340.71 581.67,340.64 582.92,340.57 584.16,340.5 585.41,340.43 586.65,340.37 587.9,340.3 589.14,340.24 590.39,340.17 591.63,340.11 592.88,340.05 594.12,339.98 595.37,339.92 596.62,339.86 597.86,339.8 599.11,339.74 600.35,339.68 601.6,339.63 602.84,339.57 604.09,339.51 605.33,339.46 606.58,339.4 607.82,339.35 609.07,339.29 610.31,339.24 611.56,339.19 612.8,339.13 614.05,339.08 615.29,339.03 616.54,338.98 617.78,338.93 619.02,338.88 620.27,338.83 621.51,338.78 622.76,338.73 624,338.69 625.25,338.64 626.5,338.59 627.74,338.55 628.99,338.5 630.23,338.46 631.48,338.41 632.72,338.37 633.97,338.32 635.21,338.28 636.45,338.24 637.7,338.19 638.95,338.15 640.19,338.11 641.44,338.07 642.68,338.03 643.92,337.99 645.17,337.95 646.41,337.91 647.66,337.87 648.9,337.83 650.15,337.79 651.39,337.75 652.64,337.71 653.88,337.68 655.13,337.64 656.38,337.6 657.62,337.57 658.87,337.53 660.11,337.49 661.36,337.46 662.6,337.42" fill="none" stroke="#ff1212" stroke-width="1.5" stroke-linejoin="round"/>
<line x1="413.6" y1="398.5" x2="413.6" y2="406.5" stroke="#ff1212" stroke-width="1.3" />
<line x1="411" y1="398.5" x2="416.2" y2="398.5" stroke="#ff1212" stroke-width="1.3" />
<line x1="411" y1="406.5" x2="416.2" y2="406.5" stroke="#ff1212" stroke-width="1.3" />
<line x1="429.16" y1="362.5" x2="429.16" y2="393.5" stroke="#ff1212" stroke-width="1.3" />
<line x1="426.56" y1="362.5" x2="431.76" y2="362.5" stroke="#ff1212" stroke-width="1.3" />
<line x1="426.56" y1="393.5" x2="431.76" y2="393.5" stroke="#ff1212" stroke-width="1.3" />
<line x1="475.85" y1="343" x2="475.85" y2="375.2" stroke="#ff1212" stroke-width="1.3" />
<line x1="473.25" y1="343" x2="478.45" y2="343" stroke="#ff1212" stroke-width="1.3" />
<line x1="473.25" y1="375.2" x2="478.45" y2="375.2" stroke="#ff1212" stroke-width="1.3" />
<line x1="538.1" y1="301.5" x2="538.1" y2="372" stroke="#ff1212" stroke-width="1.3" />
<line x1="535.5" y1="301.5" x2="540.7" y2="301.5" stroke="#ff1212" stroke-width="1.3" />
<line x1="535.5" y1="372" x2="540.7" y2="372" stroke="#ff1212" stroke-width="1.3" />
<line x1="662.6" y1="306.8" x2="662.6" y2="373.4" stroke="#ff1212" stroke-width="1.3" />
<line x1="660" y1="306.8" x2="665.2" y2="306.8" stroke="#ff1212" stroke-width="1.3" />
<line x1="660" y1="373.4" x2="665.2" y2="373.4" stroke="#ff1212" stroke-width="1.3" />
<circle cx="413.6" cy="402.7" r="2.75" fill="#fff" stroke="#ff1212" stroke-width="1.3"/>
<circle cx="429.16" cy="378.3" r="2.75" fill="#fff" stroke="#ff1212" stroke-width="1.3"/>
<circle cx="475.85" cy="358.7" r="2.75" fill="#fff" stroke="#ff1212" stroke-width="1.3"/>
<circle cx="538.1" cy="336.9" r="2.75" fill="#fff" stroke="#ff1212" stroke-width="1.3"/>
<circle cx="662.6" cy="340.1" r="2.75" fill="#fff" stroke="#ff1212" stroke-width="1.3"/>
<text x="429" y="359.8" font-size="9.2" fill="#222" text-anchor="middle" textLength="12.6" lengthAdjust="spacingAndGlyphs" >NS</text>
<path d="M475.8,337.4L475.8,334.8M475.8,337.4L478.27,336.6M475.8,337.4L477.33,339.5M475.8,337.4L474.27,339.5M475.8,337.4L473.33,336.6" stroke="#111" stroke-width="1.2" fill="none"/>
<path d="M537.3,294.6L537.3,292M537.3,294.6L539.77,293.8M537.3,294.6L538.83,296.7M537.3,294.6L535.77,296.7M537.3,294.6L534.83,293.8" stroke="#111" stroke-width="1.2" fill="none"/>
<path d="M662.1,300.8L662.1,298.2M662.1,300.8L664.57,300M662.1,300.8L663.63,302.9M662.1,300.8L660.57,302.9M662.1,300.8L659.63,300" stroke="#111" stroke-width="1.2" fill="none"/>
<text x="475.3" y="329.6" font-size="9" fill="#222" text-anchor="middle" textLength="42.6" lengthAdjust="spacingAndGlyphs" ><tspan font-style="italic">P</tspan> = 0.0115</text>
<text x="537.6" y="286.7" font-size="9" fill="#222" text-anchor="middle" textLength="45" lengthAdjust="spacingAndGlyphs" ><tspan font-style="italic">P</tspan> = 0.0331</text>
<text x="662" y="291.2" font-size="9" fill="#222" text-anchor="middle" textLength="47.2" lengthAdjust="spacingAndGlyphs" ><tspan font-style="italic">P</tspan> = 0.0326</text>
<text x="503.6" y="423" font-size="12" fill="#ff1212" textLength="130.8" lengthAdjust="spacingAndGlyphs" >ABCG25<tspan font-size="8" dy="3.2">WT</tspan><tspan dy="-3.2"> in detergent</tspan></text>
<line x1="67.4" y1="547.4" x2="67.4" y2="745" stroke="#999" stroke-width="1" />
<line x1="63.4" y1="745" x2="67.4" y2="745" stroke="#888" stroke-width="1" />
<text x="58.3" y="748.4" font-size="10" fill="#222" text-anchor="end" textLength="6.2" lengthAdjust="spacingAndGlyphs" >0</text>
<line x1="63.4" y1="695.6" x2="67.4" y2="695.6" stroke="#888" stroke-width="1" />
<text x="58.3" y="699" font-size="10" fill="#222" text-anchor="end" textLength="16.6" lengthAdjust="spacingAndGlyphs" >100</text>
<line x1="63.4" y1="646.2" x2="67.4" y2="646.2" stroke="#888" stroke-width="1" />
<text x="58.3" y="649.6" font-size="10" fill="#222" text-anchor="end" textLength="18.6" lengthAdjust="spacingAndGlyphs" >200</text>
<line x1="63.4" y1="596.8" x2="67.4" y2="596.8" stroke="#888" stroke-width="1" />
<text x="58.3" y="600.2" font-size="10" fill="#222" text-anchor="end" textLength="18.6" lengthAdjust="spacingAndGlyphs" >300</text>
<line x1="63.4" y1="547.4" x2="67.4" y2="547.4" stroke="#888" stroke-width="1" />
<text x="58.3" y="550.8" font-size="10" fill="#222" text-anchor="end" textLength="18.6" lengthAdjust="spacingAndGlyphs" >400</text>
<line x1="67.4" y1="745" x2="315.05" y2="745" stroke="#999" stroke-width="1" />
<line x1="67.6" y1="745" x2="67.6" y2="749" stroke="#888" stroke-width="1" />
<text x="67.6" y="762.6" font-size="10" fill="#222" text-anchor="middle" textLength="6.2" lengthAdjust="spacingAndGlyphs" >0</text>
<line x1="102.95" y1="745" x2="102.95" y2="749" stroke="#888" stroke-width="1" />
<text x="102.95" y="762.6" font-size="10" fill="#222" text-anchor="middle" textLength="15" lengthAdjust="spacingAndGlyphs" >0.5</text>
<line x1="138.3" y1="745" x2="138.3" y2="749" stroke="#888" stroke-width="1" />
<text x="138.3" y="762.6" font-size="10" fill="#222" text-anchor="middle" textLength="13" lengthAdjust="spacingAndGlyphs" >1.0</text>
<line x1="173.65" y1="745" x2="173.65" y2="749" stroke="#888" stroke-width="1" />
<text x="173.65" y="762.6" font-size="10" fill="#222" text-anchor="middle" textLength="13" lengthAdjust="spacingAndGlyphs" >1.5</text>
<line x1="209" y1="745" x2="209" y2="749" stroke="#888" stroke-width="1" />
<text x="209" y="762.6" font-size="10" fill="#222" text-anchor="middle" textLength="15" lengthAdjust="spacingAndGlyphs" >2.0</text>
<line x1="244.35" y1="745" x2="244.35" y2="749" stroke="#888" stroke-width="1" />
<text x="244.35" y="762.6" font-size="10" fill="#222" text-anchor="middle" textLength="15" lengthAdjust="spacingAndGlyphs" >2.5</text>
<line x1="279.7" y1="745" x2="279.7" y2="749" stroke="#888" stroke-width="1" />
<text x="279.7" y="762.6" font-size="10" fill="#222" text-anchor="middle" textLength="15" lengthAdjust="spacingAndGlyphs" >3.0</text>
<line x1="315.05" y1="745" x2="315.05" y2="749" stroke="#888" stroke-width="1" />
<text x="315.05" y="762.6" font-size="10" fill="#222" text-anchor="middle" textLength="15" lengthAdjust="spacingAndGlyphs" >3.5</text>
<text x="191.2" y="779.6" font-size="11.5" fill="#222" text-anchor="middle" textLength="61.3" lengthAdjust="spacingAndGlyphs" >[ATP] (mM)</text>
<text x="11.8" y="646.7" font-size="11.8" fill="#222" text-anchor="middle" transform="rotate(-90 11.8 646.7)" textLength="83.4" lengthAdjust="spacingAndGlyphs">ATPase activity</text>
<text x="25.9" y="646.7" font-size="11.8" fill="#222" text-anchor="middle" transform="rotate(-90 25.9 646.7)" textLength="139.9" lengthAdjust="spacingAndGlyphs">(nmol min<tspan font-size="7.2" dy="-5.4">−1</tspan><tspan dy="5.4"> mg</tspan><tspan font-size="7.2" dy="-5.4">−1</tspan><tspan dy="5.4"> protein)</tspan></text>
<line x1="80.7" y1="559.7" x2="107.3" y2="559.7" stroke="#509cff" stroke-width="1.5" />
<circle cx="94" cy="559.7" r="2.6" fill="none" stroke="#509cff" stroke-width="1.25"/>
<text x="113.2" y="563" font-size="9.0" fill="#509cff" textLength="93.2" lengthAdjust="spacingAndGlyphs" >ABCG25<tspan font-size="6" dy="2.5">WT</tspan><tspan dy="-2.5"> (liposome)</tspan></text>
<line x1="80.7" y1="580.2" x2="107.3" y2="580.2" stroke="#555" stroke-width="1.5" />
<circle cx="94" cy="580.2" r="2.6" fill="none" stroke="#555" stroke-width="1.25"/>
<text x="113.2" y="583.5" font-size="9.0" fill="#222" textLength="93.2" lengthAdjust="spacingAndGlyphs" >ABCG25<tspan font-size="6" dy="2.5">EQ</tspan><tspan dy="-2.5"> (liposome)</tspan></text>
<polyline points="67.6,745 69.01,739.03 70.43,733.52 71.84,728.4 73.26,723.65 74.67,719.21 76.08,715.07 77.5,711.19 78.91,707.55 80.33,704.12 81.74,700.9 83.15,697.85 84.57,694.98 85.98,692.25 87.4,689.67 88.81,687.22 90.22,684.89 91.64,682.67 93.05,680.56 94.47,678.54 95.88,676.62 97.29,674.78 98.71,673.01 100.12,671.33 101.54,669.71 102.95,668.16 104.36,666.66 105.78,665.23 107.19,663.85 108.61,662.53 110.02,661.25 111.43,660.01 112.85,658.83 114.26,657.68 115.68,656.57 117.09,655.5 118.5,654.46 119.92,653.46 121.33,652.49 122.75,651.55 124.16,650.64 125.57,649.76 126.99,648.9 128.4,648.07 129.82,647.27 131.23,646.48 132.64,645.72 134.06,644.98 135.47,644.26 136.89,643.57 138.3,642.88 139.71,642.22 141.13,641.58 142.54,640.95 143.96,640.33 145.37,639.74 146.78,639.16 148.2,638.59 149.61,638.03 151.03,637.49 152.44,636.96 153.85,636.45 155.27,635.94 156.68,635.45 158.1,634.97 159.51,634.5 160.92,634.04 162.34,633.59 163.75,633.15 165.17,632.72 166.58,632.29 167.99,631.88 169.41,631.48 170.82,631.08 172.24,630.69 173.65,630.31 175.06,629.94 176.48,629.57 177.89,629.22 179.31,628.86 180.72,628.52 182.13,628.18 183.55,627.85 184.96,627.52 186.38,627.2 187.79,626.89 189.2,626.58 190.62,626.28 192.03,625.98 193.45,625.69 194.86,625.4 196.27,625.12 197.69,624.85 199.1,624.57 200.52,624.31 201.93,624.04 203.34,623.78 204.76,623.53 206.17,623.28 207.59,623.03 209,622.79 210.41,622.55 211.83,622.32 213.24,622.09 214.66,621.86 216.07,621.63 217.48,621.41 218.9,621.2 220.31,620.98 221.73,620.77 223.14,620.56 224.55,620.36 225.97,620.16 227.38,619.96 228.8,619.76 230.21,619.57 231.62,619.38 233.04,619.19 234.45,619.01 235.87,618.83 237.28,618.65 238.69,618.47 240.11,618.29 241.52,618.12 242.94,617.95 244.35,617.78 245.76,617.62 247.18,617.45 248.59,617.29 250.01,617.13 251.42,616.98 252.83,616.82 254.25,616.67 255.66,616.52 257.08,616.37 258.49,616.22 259.9,616.07 261.32,615.93 262.73,615.79 264.15,615.65 265.56,615.51 266.97,615.37 268.39,615.24 269.8,615.1 271.22,614.97 272.63,614.84 274.04,614.71 275.46,614.58 276.87,614.46 278.29,614.33 279.7,614.21 281.11,614.09 282.53,613.97 283.94,613.85 285.36,613.73 286.77,613.62 288.18,613.5 289.6,613.39 291.01,613.27 292.43,613.16 293.84,613.05" fill="none" stroke="#509cff" stroke-width="1.3" stroke-linejoin="round"/>
<polyline points="67.6,745 69.01,742.93 70.43,741.54 71.84,740.55 73.26,739.81 74.67,739.24 76.08,738.78 77.5,738.4 78.91,738.08 80.33,737.82 81.74,737.59 83.15,737.39 84.57,737.22 85.98,737.07 87.4,736.93 88.81,736.81 90.22,736.7 91.64,736.6 93.05,736.51 94.47,736.43 95.88,736.36 97.29,736.29 98.71,736.22 100.12,736.16 101.54,736.11 102.95,736.06 104.36,736.01 105.78,735.96 107.19,735.92 108.61,735.88 110.02,735.85 111.43,735.81 112.85,735.78 114.26,735.75 115.68,735.72 117.09,735.69 118.5,735.66 119.92,735.64 121.33,735.61 122.75,735.59 124.16,735.57 125.57,735.55 126.99,735.53 128.4,735.51 129.82,735.49 131.23,735.47 132.64,735.46 134.06,735.44 135.47,735.42 136.89,735.41 138.3,735.39 139.71,735.38 141.13,735.37 142.54,735.35 143.96,735.34 145.37,735.33 146.78,735.32 148.2,735.31 149.61,735.3 151.03,735.28 152.44,735.27 153.85,735.26 155.27,735.25 156.68,735.25 158.1,735.24 159.51,735.23 160.92,735.22 162.34,735.21 163.75,735.2 165.17,735.19 166.58,735.19 167.99,735.18 169.41,735.17 170.82,735.16 172.24,735.16 173.65,735.15 175.06,735.14 176.48,735.14 177.89,735.13 179.31,735.13 180.72,735.12 182.13,735.11 183.55,735.11 184.96,735.1 186.38,735.1 187.79,735.09 189.2,735.09 190.62,735.08 192.03,735.08 193.45,735.07 194.86,735.07 196.27,735.06 197.69,735.06 199.1,735.05 200.52,735.05 201.93,735.05 203.34,735.04 204.76,735.04 206.17,735.03 207.59,735.03 209,735.02 210.41,735.02 211.83,735.02 213.24,735.01 214.66,735.01 216.07,735.01 217.48,735 218.9,735 220.31,735 221.73,734.99 223.14,734.99 224.55,734.99 225.97,734.98 227.38,734.98 228.8,734.98 230.21,734.97 231.62,734.97 233.04,734.97 234.45,734.97 235.87,734.96 237.28,734.96 238.69,734.96 240.11,734.96 241.52,734.95 242.94,734.95 244.35,734.95 245.76,734.95 247.18,734.94 248.59,734.94 250.01,734.94 251.42,734.94 252.83,734.93 254.25,734.93 255.66,734.93 257.08,734.93 258.49,734.92 259.9,734.92 261.32,734.92 262.73,734.92 264.15,734.92 265.56,734.91 266.97,734.91 268.39,734.91 269.8,734.91 271.22,734.91 272.63,734.9 274.04,734.9 275.46,734.9 276.87,734.9 278.29,734.9 279.7,734.9 281.11,734.89 282.53,734.89 283.94,734.89 285.36,734.89 286.77,734.89 288.18,734.89 289.6,734.88 291.01,734.88 292.43,734.88 293.84,734.88" fill="none" stroke="#555" stroke-width="1.4" stroke-linejoin="round"/>
<line x1="81.74" y1="734.3" x2="81.74" y2="740.3" stroke="#555" stroke-width="1.25" />
<line x1="79.14" y1="734.3" x2="84.34" y2="734.3" stroke="#555" stroke-width="1.25" />
<line x1="79.14" y1="740.3" x2="84.34" y2="740.3" stroke="#555" stroke-width="1.25" />
<line x1="95.88" y1="732.6" x2="95.88" y2="738.6" stroke="#555" stroke-width="1.25" />
<line x1="93.28" y1="732.6" x2="98.48" y2="732.6" stroke="#555" stroke-width="1.25" />
<line x1="93.28" y1="738.6" x2="98.48" y2="738.6" stroke="#555" stroke-width="1.25" />
<line x1="180.72" y1="729.7" x2="180.72" y2="745" stroke="#555" stroke-width="1.25" />
<line x1="178.12" y1="729.7" x2="183.32" y2="729.7" stroke="#555" stroke-width="1.25" />
<line x1="178.12" y1="745" x2="183.32" y2="745" stroke="#555" stroke-width="1.25" />
<line x1="293.84" y1="725.1" x2="293.84" y2="735.3" stroke="#555" stroke-width="1.25" />
<line x1="291.24" y1="725.1" x2="296.44" y2="725.1" stroke="#555" stroke-width="1.25" />
<line x1="291.24" y1="735.3" x2="296.44" y2="735.3" stroke="#555" stroke-width="1.25" />
<line x1="81.74" y1="701.5" x2="81.74" y2="709" stroke="#509cff" stroke-width="1.5" />
<line x1="79.14" y1="701.5" x2="84.34" y2="701.5" stroke="#509cff" stroke-width="1.5" />
<line x1="79.14" y1="709" x2="84.34" y2="709" stroke="#509cff" stroke-width="1.5" />
<line x1="95.88" y1="671.5" x2="95.88" y2="679" stroke="#509cff" stroke-width="1.5" />
<line x1="93.28" y1="671.5" x2="98.48" y2="671.5" stroke="#509cff" stroke-width="1.5" />
<line x1="93.28" y1="679" x2="98.48" y2="679" stroke="#509cff" stroke-width="1.5" />
<line x1="124.16" y1="637" x2="124.16" y2="642.5" stroke="#509cff" stroke-width="1.5" />
<line x1="121.56" y1="637" x2="126.76" y2="637" stroke="#509cff" stroke-width="1.5" />
<line x1="121.56" y1="642.5" x2="126.76" y2="642.5" stroke="#509cff" stroke-width="1.5" />
<line x1="180.72" y1="630.3" x2="180.72" y2="636.5" stroke="#509cff" stroke-width="1.5" />
<line x1="178.12" y1="630.3" x2="183.32" y2="630.3" stroke="#509cff" stroke-width="1.5" />
<line x1="178.12" y1="636.5" x2="183.32" y2="636.5" stroke="#509cff" stroke-width="1.5" />
<line x1="293.84" y1="607.1" x2="293.84" y2="621.9" stroke="#509cff" stroke-width="1.5" />
<line x1="291.24" y1="607.1" x2="296.44" y2="607.1" stroke="#509cff" stroke-width="1.5" />
<line x1="291.24" y1="621.9" x2="296.44" y2="621.9" stroke="#509cff" stroke-width="1.5" />
<circle cx="71.13" cy="740.1" r="2.6" fill="#fff" stroke="#555" stroke-width="1.25"/>
<circle cx="74.67" cy="740.5" r="2.6" fill="#fff" stroke="#555" stroke-width="1.25"/>
<circle cx="81.74" cy="737.3" r="2.6" fill="#fff" stroke="#555" stroke-width="1.25"/>
<circle cx="95.88" cy="735.6" r="2.6" fill="#fff" stroke="#555" stroke-width="1.25"/>
<circle cx="124.16" cy="738.9" r="2.6" fill="#fff" stroke="#555" stroke-width="1.25"/>
<circle cx="180.72" cy="737.8" r="2.6" fill="#fff" stroke="#555" stroke-width="1.25"/>
<circle cx="293.84" cy="730.4" r="2.6" fill="#fff" stroke="#555" stroke-width="1.25"/>
<circle cx="71.13" cy="742.2" r="2.6" fill="#fff" stroke="#509cff" stroke-width="1.25"/>
<circle cx="74.67" cy="732.4" r="2.6" fill="#fff" stroke="#509cff" stroke-width="1.25"/>
<circle cx="81.74" cy="705.2" r="2.6" fill="#fff" stroke="#509cff" stroke-width="1.25"/>
<circle cx="95.88" cy="675.2" r="2.6" fill="#fff" stroke="#509cff" stroke-width="1.25"/>
<circle cx="124.16" cy="639.7" r="2.6" fill="#fff" stroke="#509cff" stroke-width="1.25"/>
<circle cx="180.72" cy="633.4" r="2.6" fill="#fff" stroke="#509cff" stroke-width="1.25"/>
<circle cx="293.84" cy="614.5" r="2.6" fill="#fff" stroke="#509cff" stroke-width="1.25"/>
<line x1="411.5" y1="547.5" x2="411.5" y2="745.3" stroke="#888" stroke-width="1" />
<line x1="407.5" y1="745.3" x2="411.5" y2="745.3" stroke="#bbb" stroke-width="1" />
<text x="402.3" y="748.7" font-size="10" fill="#222" text-anchor="end" textLength="6.2" lengthAdjust="spacingAndGlyphs" >0</text>
<line x1="407.5" y1="705.74" x2="411.5" y2="705.74" stroke="#bbb" stroke-width="1" />
<text x="402.3" y="709.14" font-size="10" fill="#222" text-anchor="end" textLength="16.6" lengthAdjust="spacingAndGlyphs" >100</text>
<line x1="407.5" y1="666.18" x2="411.5" y2="666.18" stroke="#bbb" stroke-width="1" />
<text x="402.3" y="669.58" font-size="10" fill="#222" text-anchor="end" textLength="18.6" lengthAdjust="spacingAndGlyphs" >200</text>
<line x1="407.5" y1="626.62" x2="411.5" y2="626.62" stroke="#bbb" stroke-width="1" />
<text x="402.3" y="630.02" font-size="10" fill="#222" text-anchor="end" textLength="18.6" lengthAdjust="spacingAndGlyphs" >300</text>
<line x1="407.5" y1="587.06" x2="411.5" y2="587.06" stroke="#bbb" stroke-width="1" />
<text x="402.3" y="590.46" font-size="10" fill="#222" text-anchor="end" textLength="18.6" lengthAdjust="spacingAndGlyphs" >400</text>
<line x1="407.5" y1="547.5" x2="411.5" y2="547.5" stroke="#bbb" stroke-width="1" />
<text x="402.3" y="550.9" font-size="10" fill="#222" text-anchor="end" textLength="18.6" lengthAdjust="spacingAndGlyphs" >500</text>
<line x1="411.5" y1="745.5" x2="659.55" y2="745.5" stroke="#888" stroke-width="1" />
<line x1="411.3" y1="745.5" x2="411.3" y2="749.5" stroke="#888" stroke-width="1" />
<text x="411.3" y="762.2" font-size="10" fill="#222" text-anchor="middle" textLength="6.2" lengthAdjust="spacingAndGlyphs" >0</text>
<line x1="460.95" y1="745.5" x2="460.95" y2="749.5" stroke="#888" stroke-width="1" />
<text x="460.95" y="762.2" font-size="10" fill="#222" text-anchor="middle" textLength="4.2" lengthAdjust="spacingAndGlyphs" >1</text>
<line x1="510.6" y1="745.5" x2="510.6" y2="749.5" stroke="#888" stroke-width="1" />
<text x="510.6" y="762.2" font-size="10" fill="#222" text-anchor="middle" textLength="6.2" lengthAdjust="spacingAndGlyphs" >2</text>
<line x1="560.25" y1="745.5" x2="560.25" y2="749.5" stroke="#888" stroke-width="1" />
<text x="560.25" y="762.2" font-size="10" fill="#222" text-anchor="middle" textLength="6.2" lengthAdjust="spacingAndGlyphs" >3</text>
<line x1="609.9" y1="745.5" x2="609.9" y2="749.5" stroke="#888" stroke-width="1" />
<text x="609.9" y="762.2" font-size="10" fill="#222" text-anchor="middle" textLength="6.2" lengthAdjust="spacingAndGlyphs" >4</text>
<line x1="659.55" y1="745.5" x2="659.55" y2="749.5" stroke="#888" stroke-width="1" />
<text x="659.55" y="762.2" font-size="10" fill="#222" text-anchor="middle" textLength="6.2" lengthAdjust="spacingAndGlyphs" >5</text>
<text x="535.5" y="779.6" font-size="11.5" fill="#222" text-anchor="middle" textLength="60" lengthAdjust="spacingAndGlyphs" >[ABA] (μM)</text>
<text x="358.7" y="646.7" font-size="11.8" fill="#222" text-anchor="middle" transform="rotate(-90 358.7 646.7)" textLength="83.4" lengthAdjust="spacingAndGlyphs">ATPase activity</text>
<text x="372.5" y="646.7" font-size="11.8" fill="#222" text-anchor="middle" transform="rotate(-90 372.5 646.7)" textLength="139.9" lengthAdjust="spacingAndGlyphs">(nmol min<tspan font-size="7.2" dy="-5.4">−1</tspan><tspan dy="5.4"> mg</tspan><tspan font-size="7.2" dy="-5.4">−1</tspan><tspan dy="5.4"> protein)</tspan></text>
<polyline points="411.3,656.29 412.54,651.11 413.78,646.86 415.02,643.3 416.26,640.29 417.51,637.69 418.75,635.44 419.99,633.47 421.23,631.73 422.47,630.17 423.71,628.78 424.95,627.53 426.19,626.4 427.44,625.36 428.68,624.42 429.92,623.55 431.16,622.76 432.4,622.02 433.64,621.34 434.88,620.71 436.12,620.12 437.37,619.57 438.61,619.05 439.85,618.57 441.09,618.11 442.33,617.68 443.57,617.28 444.81,616.9 446.06,616.54 447.3,616.2 448.54,615.87 449.78,615.56 451.02,615.27 452.26,614.99 453.5,614.72 454.74,614.47 455.99,614.23 457.23,613.99 458.47,613.77 459.71,613.56 460.95,613.35 462.19,613.16 463.43,612.97 464.67,612.79 465.92,612.61 467.16,612.44 468.4,612.28 469.64,612.12 470.88,611.97 472.12,611.83 473.36,611.68 474.6,611.55 475.85,611.42 477.09,611.29 478.33,611.17 479.57,611.05 480.81,610.93 482.05,610.82 483.29,610.71 484.53,610.6 485.77,610.5 487.02,610.4 488.26,610.3 489.5,610.21 490.74,610.12 491.98,610.03 493.22,609.94 494.46,609.85 495.71,609.77 496.95,609.69 498.19,609.61 499.43,609.54 500.67,609.46 501.91,609.39 503.15,609.32 504.39,609.25 505.63,609.18 506.88,609.11 508.12,609.05 509.36,608.99 510.6,608.92 511.84,608.86 513.08,608.8 514.32,608.75 515.57,608.69 516.81,608.64 518.05,608.58 519.29,608.53 520.53,608.48 521.77,608.43 523.01,608.38 524.25,608.33 525.5,608.28 526.74,608.23 527.98,608.19 529.22,608.14 530.46,608.1 531.7,608.05 532.94,608.01 534.18,607.97 535.42,607.93 536.67,607.89 537.91,607.85 539.15,607.81 540.39,607.77 541.63,607.73 542.87,607.7 544.11,607.66 545.36,607.62 546.6,607.59 547.84,607.55 549.08,607.52 550.32,607.49 551.56,607.45 552.8,607.42 554.04,607.39 555.28,607.36 556.53,607.33 557.77,607.3 559.01,607.27 560.25,607.24 561.49,607.21 562.73,607.18 563.97,607.15 565.22,607.13 566.46,607.1 567.7,607.07 568.94,607.04 570.18,607.02 571.42,606.99 572.66,606.97 573.9,606.94 575.14,606.92 576.39,606.89 577.63,606.87 578.87,606.85 580.11,606.82 581.35,606.8 582.59,606.78 583.83,606.76 585.08,606.73 586.32,606.71 587.56,606.69 588.8,606.67 590.04,606.65 591.28,606.63 592.52,606.61 593.76,606.59 595,606.57 596.25,606.55 597.49,606.53 598.73,606.51 599.97,606.49 601.21,606.47 602.45,606.45 603.69,606.44 604.93,606.42 606.18,606.4 607.42,606.38 608.66,606.37 609.9,606.35 611.14,606.33 612.38,606.32 613.62,606.3 614.87,606.28 616.11,606.27 617.35,606.25 618.59,606.23 619.83,606.22 621.07,606.2 622.31,606.19 623.55,606.17 624.79,606.16 626.04,606.14 627.28,606.13 628.52,606.12 629.76,606.1 631,606.09 632.24,606.07 633.48,606.06 634.73,606.05 635.97,606.03 637.21,606.02 638.45,606.01 639.69,605.99 640.93,605.98 642.17,605.97 643.41,605.95 644.65,605.94 645.9,605.93 647.14,605.92 648.38,605.9 649.62,605.89 650.86,605.88 652.1,605.87 653.34,605.86 654.59,605.85 655.83,605.83 657.07,605.82 658.31,605.81 659.55,605.8" fill="none" stroke="#ff8585" stroke-width="1.5" stroke-linejoin="round"/>
<line x1="411.3" y1="641.6" x2="411.3" y2="653.2" stroke="#ff8585" stroke-width="1.3" />
<line x1="411.3" y1="658.4" x2="411.3" y2="670" stroke="#ff8585" stroke-width="1.3" />
<line x1="408.7" y1="641.6" x2="413.9" y2="641.6" stroke="#ff8585" stroke-width="1.3" />
<line x1="408.7" y1="670" x2="413.9" y2="670" stroke="#ff8585" stroke-width="1.3" />
<line x1="419.06" y1="621.6" x2="419.06" y2="629.5" stroke="#ff8585" stroke-width="1.3" />
<line x1="419.06" y1="634.7" x2="419.06" y2="642.1" stroke="#ff8585" stroke-width="1.3" />
<line x1="416.46" y1="621.6" x2="421.66" y2="621.6" stroke="#ff8585" stroke-width="1.3" />
<line x1="416.46" y1="642.1" x2="421.66" y2="642.1" stroke="#ff8585" stroke-width="1.3" />
<line x1="442.33" y1="609.4" x2="442.33" y2="618.7" stroke="#ff8585" stroke-width="1.3" />
<line x1="442.33" y1="623.9" x2="442.33" y2="633" stroke="#ff8585" stroke-width="1.3" />
<line x1="439.73" y1="609.4" x2="444.93" y2="609.4" stroke="#ff8585" stroke-width="1.3" />
<line x1="439.73" y1="633" x2="444.93" y2="633" stroke="#ff8585" stroke-width="1.3" />
<line x1="473.36" y1="578.3" x2="473.36" y2="606.3" stroke="#ff8585" stroke-width="1.3" />
<line x1="473.36" y1="611.5" x2="473.36" y2="639" stroke="#ff8585" stroke-width="1.3" />
<line x1="470.76" y1="578.3" x2="475.96" y2="578.3" stroke="#ff8585" stroke-width="1.3" />
<line x1="470.76" y1="639" x2="475.96" y2="639" stroke="#ff8585" stroke-width="1.3" />
<line x1="535.42" y1="594" x2="535.42" y2="604.8" stroke="#ff8585" stroke-width="1.3" />
<line x1="535.42" y1="610" x2="535.42" y2="621.2" stroke="#ff8585" stroke-width="1.3" />
<line x1="532.82" y1="594" x2="538.02" y2="594" stroke="#ff8585" stroke-width="1.3" />
<line x1="532.82" y1="621.2" x2="538.02" y2="621.2" stroke="#ff8585" stroke-width="1.3" />
<line x1="659.55" y1="587.3" x2="659.55" y2="603.7" stroke="#ff8585" stroke-width="1.3" />
<line x1="659.55" y1="608.9" x2="659.55" y2="626.4" stroke="#ff8585" stroke-width="1.3" />
<line x1="656.95" y1="587.3" x2="662.15" y2="587.3" stroke="#ff8585" stroke-width="1.3" />
<line x1="656.95" y1="626.4" x2="662.15" y2="626.4" stroke="#ff8585" stroke-width="1.3" />
<circle cx="411.3" cy="655.8" r="2.75" fill="none" stroke="#ff8585" stroke-width="1.3"/>
<circle cx="419.06" cy="632.1" r="2.75" fill="none" stroke="#ff8585" stroke-width="1.3"/>
<circle cx="442.33" cy="621.3" r="2.75" fill="none" stroke="#ff8585" stroke-width="1.3"/>
<circle cx="473.36" cy="608.9" r="2.75" fill="none" stroke="#ff8585" stroke-width="1.3"/>
<circle cx="535.42" cy="607.4" r="2.75" fill="none" stroke="#ff8585" stroke-width="1.3"/>
<circle cx="659.55" cy="606.3" r="2.75" fill="none" stroke="#ff8585" stroke-width="1.3"/>
<text x="418.8" y="618.6" font-size="9.2" fill="#222" text-anchor="middle" textLength="12.6" lengthAdjust="spacingAndGlyphs" >NS</text>
<path d="M442.5,603.4L442.5,600.8M442.5,603.4L444.97,602.6M442.5,603.4L444.03,605.5M442.5,603.4L440.97,605.5M442.5,603.4L440.03,602.6" stroke="#111" stroke-width="1.2" fill="none"/>
<path d="M473.2,572.8L473.2,570.2M473.2,572.8L475.67,572M473.2,572.8L474.73,574.9M473.2,572.8L471.67,574.9M473.2,572.8L470.73,572" stroke="#111" stroke-width="1.2" fill="none"/>
<path d="M535.2,587L535.2,584.4M535.2,587L537.67,586.2M535.2,587L536.73,589.1M535.2,587L533.67,589.1M535.2,587L532.73,586.2" stroke="#111" stroke-width="1.2" fill="none"/>
<path d="M659.6,581L659.6,578.4M659.6,581L662.07,580.2M659.6,581L661.13,583.1M659.6,581L658.07,583.1M659.6,581L657.13,580.2" stroke="#111" stroke-width="1.2" fill="none"/>
<text x="442" y="595.4" font-size="9" fill="#222" text-anchor="middle" textLength="45.3" lengthAdjust="spacingAndGlyphs" ><tspan font-style="italic">P</tspan> = 0.0310</text>
<text x="473.2" y="565" font-size="9" fill="#222" text-anchor="middle" textLength="46" lengthAdjust="spacingAndGlyphs" ><tspan font-style="italic">P</tspan> = 0.0284</text>
<text x="535" y="579.1" font-size="9" fill="#222" text-anchor="middle" textLength="40.7" lengthAdjust="spacingAndGlyphs" ><tspan font-style="italic">P</tspan> = 0.244</text>
<text x="659.8" y="573.6" font-size="9" fill="#222" text-anchor="middle" textLength="47.5" lengthAdjust="spacingAndGlyphs" ><tspan font-style="italic">P</tspan> = 0.0220</text>
<text x="503.8" y="683.6" font-size="12" fill="#ff8585" textLength="128.2" lengthAdjust="spacingAndGlyphs" >ABCG25<tspan font-size="8" dy="3.2">WT</tspan><tspan dy="-3.2"> in liposome</tspan></text>
</g>
</svg>
</body></html>
